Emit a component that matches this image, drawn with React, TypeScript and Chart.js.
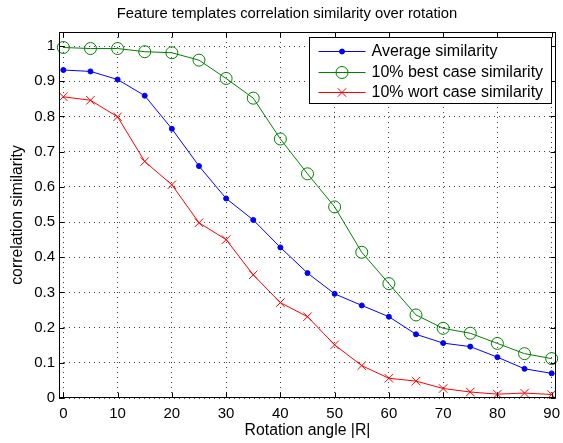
import React, { useEffect, useRef } from 'react';
import { Chart, registerables } from 'chart.js';

Chart.register(...registerables);

const angles = [0, 5, 10, 15, 20, 25, 30, 35, 40, 45, 50, 55, 60, 65, 70, 75, 80, 85, 90];
const averageSimilarity = [0.932, 0.928, 0.905, 0.859, 0.765, 0.659, 0.567, 0.506, 0.428, 0.355, 0.296, 0.263, 0.231, 0.181, 0.156, 0.146, 0.116, 0.083, 0.070];
const bestCaseSimilarity = [0.996, 0.993, 0.993, 0.984, 0.981, 0.960, 0.908, 0.852, 0.736, 0.637, 0.543, 0.414, 0.325, 0.236, 0.198, 0.184, 0.155, 0.126, 0.112];
const worstCaseSimilarity = [0.856, 0.846, 0.799, 0.672, 0.606, 0.498, 0.450, 0.350, 0.271, 0.231, 0.151, 0.092, 0.056, 0.048, 0.027, 0.017, 0.011, 0.014, 0.010];

const seriesLabels = ['Average similarity', '10% best case similarity', '10% wort case similarity'];
const xTickValues = [0, 10, 20, 30, 40, 50, 60, 70, 80, 90];
const yTickValues = [0, 0.1, 0.2, 0.3, 0.4, 0.5, 0.6, 0.7, 0.8, 0.9, 1];
const yTickLabels = ['0', '0.1', '0.2', '0.3', '0.4', '0.5', '0.6', '0.7', '0.8', '0.9', '1'];

const FONT = '"Liberation Sans", Arial, Helvetica, sans-serif';

const toPoints = (ys: number[]) => ys.map((y, i) => ({ x: angles[i], y }));

const matlabPlugin = {
  id: 'matlabFrame',
  afterDatasetsDraw(chart: any) {
    const { ctx, chartArea: a, scales } = chart;
    ctx.save();
    ctx.strokeStyle = '#000';
    ctx.lineWidth = 1;
    ctx.setLineDash([]);
    const L = 5;
    const left = Math.round(a.left) + 0.5;
    const right = Math.round(a.right) - 0.5;
    const top = Math.round(a.top) + 0.5;
    const bottom = Math.round(a.bottom) - 0.5;
    ctx.beginPath();
    for (const v of xTickValues) {
      const px = Math.round(scales.x.getPixelForValue(v)) + 0.5;
      ctx.moveTo(px, bottom);
      ctx.lineTo(px, bottom - L);
      ctx.moveTo(px, top);
      ctx.lineTo(px, top + L);
    }
    for (const v of yTickValues) {
      const py = Math.round(scales.y.getPixelForValue(v)) + 0.5;
      ctx.moveTo(left, py);
      ctx.lineTo(left + L, py);
      ctx.moveTo(right, py);
      ctx.lineTo(right - L, py);
    }
    ctx.stroke();
    ctx.strokeRect(left, top, right - left, bottom - top);

    // legend
    ctx.font = `16px ${FONT}`;
    const ds = chart.data.datasets;
    let maxW = 0;
    ds.forEach((d: any) => {
      maxW = Math.max(maxW, ctx.measureText(d.label).width);
    });
    const boxW = Math.round(9 + 47 + 6 + maxW + 8);
    const boxH = 66;
    const bx = Math.round(a.right - 5 - boxW) + 0.5;
    const by = Math.round(a.top + 5) + 0.5;
    ctx.fillStyle = '#fff';
    ctx.fillRect(bx, by, boxW, boxH);
    ctx.strokeStyle = '#000';
    ctx.strokeRect(bx, by, boxW, boxH);
    ds.forEach((d: any, i: number) => {
      const cy = Math.round(by + 13.5 + 20.5 * i) + 0.5;
      const x0 = bx + 9;
      const x1 = bx + 56;
      const mx = (x0 + x1) / 2;
      ctx.strokeStyle = d.borderColor;
      ctx.lineWidth = 1;
      ctx.beginPath();
      ctx.moveTo(x0, cy);
      ctx.lineTo(x1, cy);
      ctx.stroke();
      const r = d.pointRadius;
      ctx.beginPath();
      if (d.pointStyle === 'crossRot') {
        const k = r * Math.SQRT1_2;
        ctx.moveTo(mx - k, cy - k);
        ctx.lineTo(mx + k, cy + k);
        ctx.moveTo(mx + k, cy - k);
        ctx.lineTo(mx - k, cy + k);
        ctx.stroke();
      } else {
        ctx.arc(mx, cy, r, 0, Math.PI * 2);
        if (d.pointBackgroundColor && d.pointBackgroundColor !== 'rgba(0,0,0,0)') {
          ctx.fillStyle = d.pointBackgroundColor;
          ctx.fill();
        }
        ctx.stroke();
      }
      ctx.fillStyle = '#000';
      ctx.textBaseline = 'middle';
      ctx.textAlign = 'left';
      ctx.fillText(d.label, bx + 62, cy);
    });
    ctx.restore();
  },
};

export default function App() {
  const ref = useRef<HTMLCanvasElement | null>(null);
  useEffect(() => {
    if (!ref.current) return;
    const chart = new Chart(ref.current, {
      type: 'line',
      data: {
        datasets: [
          {
            label: seriesLabels[0],
            data: toPoints(averageSimilarity),
            borderColor: '#0000ff',
            backgroundColor: '#0000ff',
            pointBackgroundColor: '#0000ff',
            pointBorderColor: '#0000ff',
            pointStyle: 'circle',
            pointRadius: 2.5,
            borderWidth: 1,
            pointBorderWidth: 1,
            clip: false,
          },
          {
            label: seriesLabels[1],
            data: toPoints(bestCaseSimilarity),
            borderColor: '#008000',
            backgroundColor: 'rgba(0,0,0,0)',
            pointBackgroundColor: 'rgba(0,0,0,0)',
            pointBorderColor: '#008000',
            pointStyle: 'circle',
            pointRadius: 6,
            borderWidth: 1,
            pointBorderWidth: 1,
            clip: false,
          },
          {
            label: seriesLabels[2],
            data: toPoints(worstCaseSimilarity),
            borderColor: '#ff0000',
            backgroundColor: '#ff0000',
            pointBackgroundColor: '#ff0000',
            pointBorderColor: '#ff0000',
            pointStyle: 'crossRot',
            pointRadius: 6,
            borderWidth: 1,
            pointBorderWidth: 1,
            clip: false,
          },
        ] as any,
      },
      options: {
        animation: false,
        responsive: false,
        devicePixelRatio: 1,
        layout: { padding: { left: 16, right: 5, top: 0, bottom: 0 } },
        elements: { line: { tension: 0 } },
        plugins: {
          legend: { display: false },
          tooltip: { enabled: false },
          title: {
            display: true,
            text: 'Feature templates correlation similarity over rotation',
            color: '#000',
            font: { family: FONT, size: 14.8, weight: 'normal' },
            padding: { top: 5.5, bottom: 8.74 },
          },
        },
        scales: {
          x: {
            type: 'linear',
            min: -0.8,
            max: 90.8,
            afterBuildTicks: (s: any) => {
              s.ticks = xTickValues.map((v) => ({ value: v }));
            },
            afterFit: (s: any) => {
              s.height = 45;
              s.paddingLeft = 0;
              s.paddingRight = 0;
            },
            ticks: {
              color: '#000',
              font: { family: FONT, size: 15 },
              padding: 7,
              maxRotation: 0,
              autoSkip: false,
              callback: (v: any) => String(v),
            },
            grid: {
              color: 'rgba(0,0,0,0.75)',
              lineWidth: 1,
              drawTicks: false,
              borderDash: [1, 4],
            } as any,
            border: { display: false, dash: [1, 4] },
            title: {
              display: true,
              text: 'Rotation angle |R|',
              color: '#000',
              font: { family: FONT, size: 15.8 },
              padding: { top: 0, bottom: 3 },
            },
          },
          y: {
            type: 'linear',
            min: 0,
            max: 1.04,
            afterBuildTicks: (s: any) => {
              s.ticks = yTickValues.map((v) => ({ value: v }));
            },
            afterFit: (s: any) => {
              s.width = 43;
              s.paddingTop = 0;
              s.paddingBottom = 0;
            },
            ticks: {
              color: '#000',
              font: { family: FONT, size: 15 },
              padding: 4,
              autoSkip: false,
              callback: (v: any) => {
                const idx = yTickValues.findIndex((t) => Math.abs(t - v) < 1e-9);
                return idx >= 0 ? yTickLabels[idx] : '';
              },
            },
            grid: {
              color: 'rgba(0,0,0,0.75)',
              lineWidth: 1,
              drawTicks: false,
              borderDash: [1, 4],
            } as any,
            border: { display: false, dash: [1, 4] },
            title: {
              display: true,
              text: 'correlation similarity',
              color: '#000',
              font: { family: FONT, size: 15.8 },
              padding: { top: -7.6, bottom: 0 },
            },
          },
        },
      } as any,
      plugins: [matlabPlugin],
    });
    return () => chart.destroy();
  }, []);
  return (
    <div style={{ position: 'fixed', left: 0, top: 0, width: 563, height: 443, background: '#fff' }}>
      <canvas ref={ref} width={563} height={443} style={{ display: 'block' }} />
    </div>
  );
}
